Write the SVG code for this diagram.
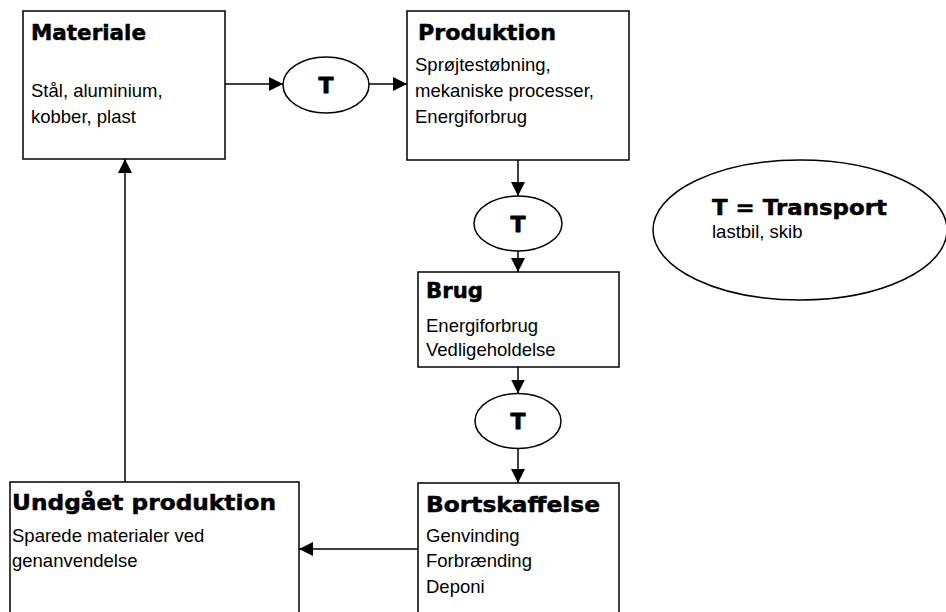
<svg xmlns="http://www.w3.org/2000/svg" width="946" height="612" viewBox="0 0 946 612">
<defs>
<style>
.box{fill:#fff;stroke:#000;stroke-width:1.5}
.ell{fill:#fff;stroke:#000;stroke-width:1.5}
.ttl{font-family:"DejaVu Sans",sans-serif;font-weight:bold;font-size:22px;fill:#000;stroke:#000;stroke-width:0.5;stroke-linejoin:round}
.txt{font-family:"Liberation Sans",Arial,sans-serif;font-size:18.5px;fill:#000}
.tlab{font-family:"DejaVu Sans",sans-serif;font-weight:bold;font-size:22px;fill:#000;stroke:#000;stroke-width:0.8;stroke-linejoin:round;text-anchor:middle}
.con{stroke:#000;stroke-width:1.5;fill:none}
</style>
<marker id="arr" markerUnits="userSpaceOnUse" markerWidth="15" markerHeight="15" refX="14" refY="7" orient="auto">
<path d="M0,0 L14,7 L0,14 z" fill="#000"/>
</marker>
</defs>
<rect width="946" height="612" fill="#fff"/>
<g id="connectors">
<line class="con" x1="225" y1="84" x2="283" y2="84" marker-end="url(#arr)"/>
<line class="con" x1="369" y1="84" x2="407" y2="84" marker-end="url(#arr)"/>
<line class="con" x1="518" y1="160" x2="518" y2="196" marker-end="url(#arr)"/>
<line class="con" x1="518" y1="251" x2="518" y2="272" marker-end="url(#arr)"/>
<line class="con" x1="518" y1="367" x2="518" y2="393.5" marker-end="url(#arr)"/>
<line class="con" x1="518" y1="448.5" x2="518" y2="483" marker-end="url(#arr)"/>
<line class="con" x1="418" y1="549" x2="299" y2="549" marker-end="url(#arr)"/>
<line class="con" x1="125" y1="482" x2="125" y2="159" marker-end="url(#arr)"/>
</g>
<g id="materiale">
<rect class="box" x="23" y="11" width="202" height="148"/>
<text class="ttl" x="31" y="40" textLength="115" lengthAdjust="spacingAndGlyphs">Materiale</text>
<text class="txt" x="31" y="97">Stål, aluminium,</text>
<text class="txt" x="31" y="123">kobber, plast</text>
</g>
<g id="t1">
<ellipse class="ell" cx="326" cy="85" rx="43" ry="28"/>
<text class="tlab" x="326" y="93">T</text>
</g>
<g id="produktion">
<rect class="box" x="407" y="11" width="222" height="149"/>
<text class="ttl" x="418" y="40" textLength="138" lengthAdjust="spacingAndGlyphs">Produktion</text>
<text class="txt" x="415" y="71">Sprøjtestøbning,</text>
<text class="txt" x="415" y="97">mekaniske processer,</text>
<text class="txt" x="415" y="123">Energiforbrug</text>
</g>
<g id="t2">
<ellipse class="ell" cx="518" cy="223.5" rx="44" ry="27.5"/>
<text class="tlab" x="518" y="231.5">T</text>
</g>
<g id="legend">
<ellipse class="ell" cx="800" cy="230" rx="147" ry="70"/>
<text class="ttl" x="712" y="215" textLength="175" lengthAdjust="spacingAndGlyphs">T = Transport</text>
<text class="txt" x="712" y="238">lastbil, skib</text>
</g>
<g id="brug">
<rect class="box" x="418" y="272" width="201" height="95"/>
<text class="ttl" x="426" y="298" textLength="57" lengthAdjust="spacingAndGlyphs">Brug</text>
<text class="txt" x="426" y="332">Energiforbrug</text>
<text class="txt" x="426" y="356">Vedligeholdelse</text>
</g>
<g id="t3">
<ellipse class="ell" cx="518" cy="421" rx="43" ry="27.5"/>
<text class="tlab" x="518" y="429">T</text>
</g>
<g id="bortskaffelse">
<rect class="box" x="418" y="483" width="201" height="150"/>
<text class="ttl" x="426" y="512" textLength="174" lengthAdjust="spacingAndGlyphs">Bortskaffelse</text>
<text class="txt" x="426" y="542">Genvinding</text>
<text class="txt" x="426" y="567">Forbrænding</text>
<text class="txt" x="426" y="593">Deponi</text>
</g>
<g id="undgaaet">
<rect class="box" x="10" y="482" width="289" height="150"/>
<text class="ttl" x="12" y="510" textLength="264" lengthAdjust="spacingAndGlyphs">Undgået produktion</text>
<text class="txt" x="12" y="542">Sparede materialer ved</text>
<text class="txt" x="12" y="567">genanvendelse</text>
</g>
</svg>
